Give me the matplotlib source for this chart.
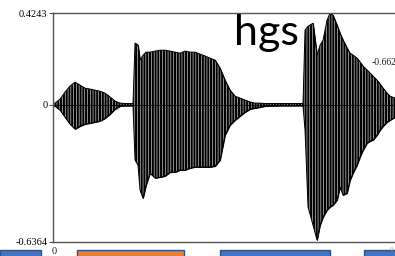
import matplotlib
matplotlib.use("Agg")
import matplotlib.pyplot as plt
from matplotlib.patches import Rectangle

# waveform envelope (time in s, amplitude)
time = [0.000, 0.004, 0.014, 0.024, 0.034, 0.044, 0.054, 0.064, 0.074, 0.084,
        0.094, 0.104, 0.114, 0.124, 0.134, 0.144, 0.154, 0.160, 0.164, 0.170,
        0.174, 0.180, 0.186, 0.194, 0.204, 0.214, 0.224, 0.234, 0.244, 0.254,
        0.264, 0.274, 0.284, 0.294, 0.304, 0.314, 0.324, 0.334, 0.344, 0.354,
        0.364, 0.374, 0.384, 0.394, 0.404, 0.414, 0.424, 0.454, 0.500, 0.504,
        0.510, 0.520, 0.528, 0.534, 0.540, 0.548, 0.554, 0.560, 0.568, 0.574,
        0.580, 0.588, 0.594, 0.600, 0.608, 0.614, 0.620, 0.628, 0.634, 0.640,
        0.648, 0.654, 0.660, 0.668, 0.674, 0.684, 0.694]
upper = [0.002, 0.007, 0.025, 0.058, 0.086, 0.104, 0.090, 0.076, 0.072, 0.067,
         0.062, 0.053, 0.035, 0.016, 0.007, 0.005, 0.005, 0.005, 0.285, 0.276,
         0.206, 0.229, 0.243, 0.243, 0.248, 0.252, 0.252, 0.248, 0.243, 0.238,
         0.248, 0.243, 0.243, 0.234, 0.225, 0.215, 0.206, 0.169, 0.113, 0.067,
         0.039, 0.030, 0.021, 0.012, 0.007, 0.007, 0.005, 0.005, 0.005, 0.345,
         0.363, 0.377, 0.229, 0.275, 0.299, 0.391, 0.424, 0.414, 0.368, 0.331,
         0.299, 0.262, 0.238, 0.229, 0.215, 0.197, 0.178, 0.160, 0.146, 0.132,
         0.113, 0.095, 0.076, 0.053, 0.039, 0.030, 0.021]
lower = [-0.002, -0.007, -0.025, -0.058, -0.090, -0.113, -0.100, -0.090, -0.086, -0.081,
         -0.076, -0.063, -0.044, -0.021, -0.007, -0.005, -0.005, -0.005, -0.257, -0.280,
         -0.396, -0.433, -0.373, -0.317, -0.340, -0.336, -0.331, -0.313, -0.313, -0.303,
         -0.303, -0.294, -0.289, -0.289, -0.289, -0.289, -0.285, -0.257, -0.141, -0.095,
         -0.072, -0.053, -0.035, -0.021, -0.016, -0.012, -0.007, -0.005, -0.005, -0.118,
         -0.474, -0.558, -0.627, -0.558, -0.521, -0.488, -0.474, -0.465, -0.442, -0.382,
         -0.419, -0.410, -0.350, -0.317, -0.280, -0.243, -0.211, -0.178, -0.169, -0.164,
         -0.141, -0.118, -0.100, -0.081, -0.072, -0.058, -0.049]

y_min, y_max = -0.6364, 0.4243
y_ticks = [y_min, 0, y_max]
y_labels = ["-0.6364", "0", "0.4243"]

plt.rcParams["hatch.linewidth"] = 0.45
serif = "Liberation Serif"

fig = plt.figure(figsize=(3.95, 2.56), dpi=100)
ax = fig.add_axes([0.1342, 0.0547, 1.0127, 0.8945])

ax.fill_between(time, lower, upper, color="black", linewidth=0.6)
ax.fill_between(time, lower, upper, facecolor="none", edgecolor="#dddddd",
                hatch="||||||", linewidth=0)
ax.plot(time, upper, color="black", linewidth=0.7)
ax.plot(time, lower, color="black", linewidth=0.7)
ax.axhline(0, color="black", linewidth=0.6)

ax.set_xlim(0, 0.8)
ax.set_ylim(y_min, y_max)
ax.set_yticks(y_ticks)
ax.set_yticklabels(y_labels, fontfamily=serif, fontsize=7.5)
ax.set_xticks([])
ax.tick_params(axis="y", length=3, width=0.8, pad=1, color="#555555")
for side in ["left", "top", "bottom"]:
    ax.spines[side].set_color("#555555")
    ax.spines[side].set_linewidth(1.0)
ax.spines["right"].set_visible(False)

# text on the slide
fig.text(266 / 395, 1 - 45 / 256, "hgs", fontfamily="Lato", fontsize=31,
         ha="center", va="baseline", color="black")
fig.text(372 / 395, 1 - 65 / 256, "-0.662", fontfamily=serif, fontsize=7,
         color="#222222")
fig.text(54 / 395, 1 - 254 / 256, "0", fontfamily=serif, fontsize=7.5,
         ha="center", color="#222222")
fig.text(392 / 395, 1 - 251 / 256, "0", fontfamily=serif, fontsize=5,
         ha="center", color="#999999")

# coloured boxes cut off at the bottom edge
boxes = [(0, 41, "#4472C4"), (77, 184, "#ED7D31"), (220, 330, "#4472C4"),
         (364, 400, "#4472C4")]
for x0, x1, col in boxes:
    fig.patches.append(Rectangle((x0 / 395, -0.02), (x1 - x0) / 395, 0.045,
                                 transform=fig.transFigure, facecolor=col,
                                 edgecolor="#2F528F", linewidth=1.0))

fig.savefig("out.png", dpi=100)
